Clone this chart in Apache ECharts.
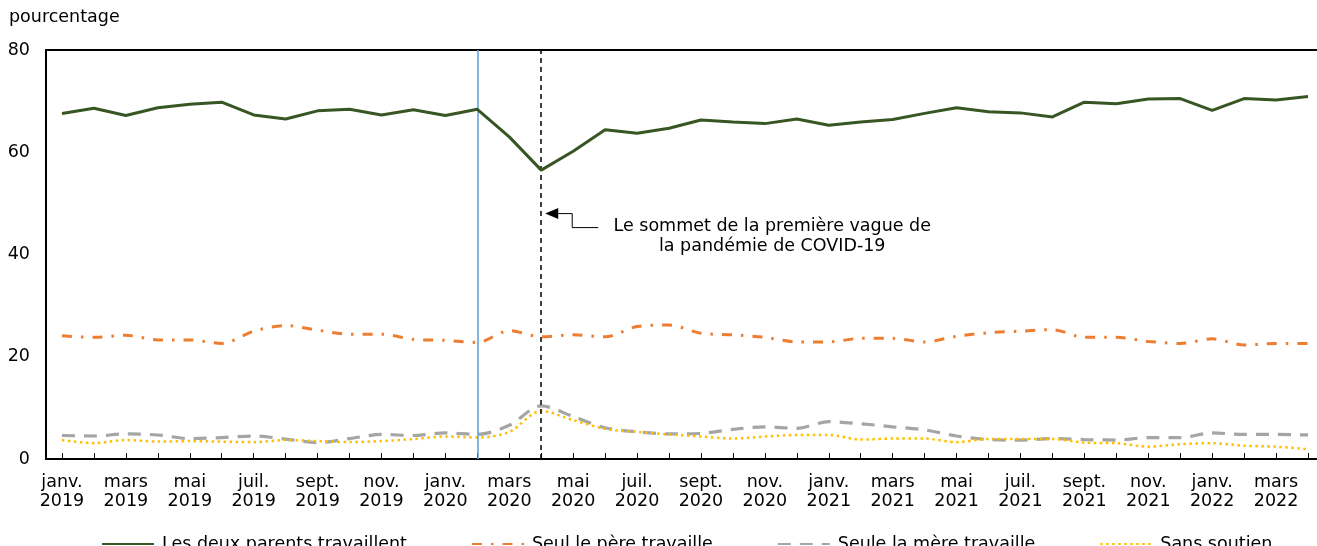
<!DOCTYPE html>
<html>
<head>
<meta charset="utf-8">
<script src="https://cdn.jsdelivr.net/npm/echarts@6/dist/echarts.min.js"></script>
<style>
  html, body { margin: 0; padding: 0; background: #fff; }
  #chart { width: 1317px; height: 546px; }
</style>
</head>
<body>
<div id="chart"></div>
<script>
const months = ['janv.', 'févr.', 'mars', 'avr.', 'mai', 'juin', 'juil.', 'août', 'sept.', 'oct.', 'nov.', 'déc.'];
const years = [2019, 2020, 2021, 2022];
const categories = [];
years.forEach(y => months.forEach((m, i) => { if (y < 2022 || i < 4) categories.push(m + '\n' + y); }));

const seriesNames = ['Les deux parents travaillent', 'Seul le père travaille', 'Seule la mère travaille', 'Sans soutien'];

const bothParents = [67.6, 68.6, 67.2, 68.7, 69.4, 69.8, 67.3, 66.5, 68.1, 68.4, 67.3, 68.3, 67.2,
  68.4, 63.0, 56.5, 60.2, 64.4, 63.7, 64.7, 66.3, 65.9, 65.6, 66.5, 65.3, 65.9, 66.4,
  67.6, 68.7, 67.9, 67.7, 66.9, 69.8, 69.5, 70.4, 70.5, 68.2, 70.5, 70.2, 70.9];
const fatherOnly = [24.1, 23.8, 24.2, 23.3, 23.3, 22.6, 25.0, 26.1, 25.2, 24.4, 24.4, 23.4, 23.2,
  22.8, 25.1, 23.9, 24.3, 23.9, 25.9, 26.2, 24.6, 24.3, 23.8, 22.9, 22.9, 23.6,
  23.6, 22.9, 24.0, 24.7, 25.0, 25.3, 23.8, 23.8, 23.0, 22.6, 23.5, 22.3, 22.6, 22.6];
const motherOnly = [4.6, 4.5, 4.9, 4.7, 4.0, 4.2, 4.5, 3.9, 3.2, 4.0, 4.8, 4.6, 5.1,
  4.8, 6.6, 10.4, 8.3, 6.1, 5.3, 4.9, 5.0, 5.8, 6.3, 6.0, 7.3, 6.9,
  6.3, 5.7, 4.5, 3.8, 3.7, 4.0, 3.8, 3.7, 4.2, 4.2, 5.1, 4.8, 4.8, 4.7];
const noSupport = [3.7, 3.1, 3.7, 3.4, 3.5, 3.4, 3.3, 3.7, 3.5, 3.3, 3.5, 3.9, 4.4,
  4.2, 5.3, 9.4, 7.6, 5.9, 5.3, 4.8, 4.4, 4.0, 4.4, 4.7, 4.7, 3.8,
  4.0, 4.0, 3.3, 3.9, 3.9, 3.9, 3.2, 3.1, 2.4, 2.9, 3.1, 2.6, 2.4, 1.9];

const yTicks = { min: 0, max: 80, interval: 20 };
const blueLineIndex = 13;   // févr. 2020
const peakIndex = 15;       // avr. 2020
const annotationValue = 48;
const annotationText = 'Le sommet de la première vague de\nla pandémie de COVID-19';

const FONT = '"DejaVu Sans", Verdana, sans-serif';
const FS = 17.5;
const chart = echarts.init(document.getElementById('chart'), null, { renderer: 'canvas' });

const option = {
  animation: false,
  backgroundColor: '#fff',
  textStyle: { fontFamily: FONT, color: '#000' },
  grid: { left: 46, top: 50, width: 1278, height: 409, outerBoundsMode: 'none', containLabel: false,
          show: true, borderColor: '#000', borderWidth: 2, backgroundColor: 'transparent' },
  xAxis: {
    type: 'category',
    data: categories,
    boundaryGap: true,
    axisLine: { lineStyle: { color: '#000', width: 2 } },
    axisTick: { show: true, inside: true, length: 6, alignWithLabel: true, interval: 0, lineStyle: { color: '#000', width: 1 } },
    axisLabel: { interval: 1, color: '#000', fontSize: FS, fontFamily: FONT, lineHeight: 19, margin: 14 },
    splitLine: { show: false }
  },
  yAxis: {
    type: 'value',
    min: yTicks.min, max: yTicks.max, interval: yTicks.interval,
    axisLine: { show: true, lineStyle: { color: '#000', width: 2 } },
    axisTick: { show: false },
    axisLabel: { color: '#000', fontSize: FS, fontFamily: FONT, margin: 16 },
    splitLine: { show: false }
  },
  legend: {
    left: 96, top: 530,
    itemWidth: 52, itemHeight: 18, itemGap: 64,
    itemStyle: { color: 'transparent', borderWidth: 0, opacity: 0 },
    textStyle: { fontSize: FS, fontFamily: FONT, color: '#000', padding: [0, 0, 0, 3] },
    data: seriesNames
  },
  series: [
    {
      name: seriesNames[0], type: 'line', data: bothParents, symbol: 'none',
      lineStyle: { color: '#375623', width: 3 }, itemStyle: { color: '#375623' },
      z: 5,
      markLine: {
        silent: true, symbol: 'none', label: { show: false },
        data: [
          { xAxis: blueLineIndex, lineStyle: { color: '#5B9BD5', width: 1.5, type: 'solid' } },
          { xAxis: peakIndex, lineStyle: { color: '#000', width: 1.5, type: [5, 4] } }
        ]
      }
    },
    {
      name: seriesNames[1], type: 'line', data: fatherOnly, symbol: 'none', smooth: 0.3,
      lineStyle: { color: '#ED7D31', width: 3, type: [10, 9, 2.5, 9] }, itemStyle: { color: '#ED7D31' }
    },
    {
      name: seriesNames[2], type: 'line', data: motherOnly, symbol: 'none', smooth: 0.3,
      lineStyle: { color: '#A5A5A5', width: 3.2, type: [13, 9] }, itemStyle: { color: '#A5A5A5' }
    },
    {
      name: seriesNames[3], type: 'line', data: noSupport, symbol: 'none', smooth: 0.3,
      lineStyle: { color: '#FFC000', width: 2.5, type: [2.5, 3.5] }, itemStyle: { color: '#FFC000' }
    }
  ]
};
chart.setOption(option);

const tip = chart.convertToPixel({ xAxisIndex: 0, yAxisIndex: 0 }, [peakIndex, annotationValue]);
const tx = tip[0] + 4, ty = tip[1];
chart.setOption({
  graphic: [
    { type: 'text', left: 9, top: 8, style: { text: 'pourcentage', font: FS + 'px ' + FONT, fill: '#000' } },
    { type: 'polygon', shape: { points: [[tx, ty], [tx + 13, ty - 5.5], [tx + 13, ty + 5.5]] }, style: { fill: '#000' } },
    { type: 'polyline', shape: { points: [[tx + 13, ty], [tx + 27, ty], [tx + 27, ty + 14], [tx + 53, ty + 14]] }, style: { stroke: '#000', lineWidth: 1, fill: null } },
    { type: 'text', x: tx + 227, y: ty + 3, style: { text: annotationText, font: FS + 'px ' + FONT, fill: '#000', align: 'center', verticalAlign: 'top', lineHeight: 20 } }
  ]
});
</script>
</body>
</html>
